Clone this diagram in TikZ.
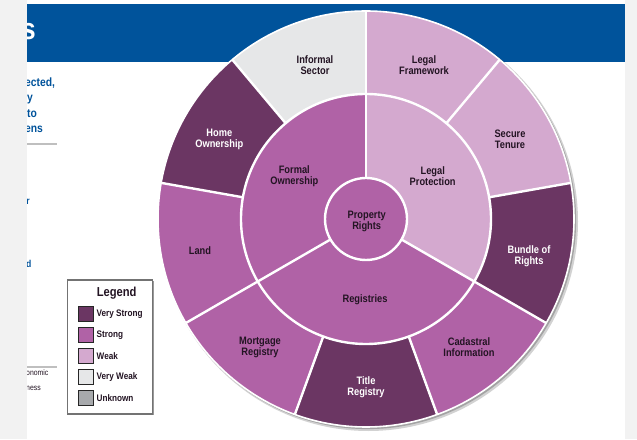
\documentclass[tikz,border=0pt]{standalone}
\usepackage{fontspec}
\setmainfont{Liberation Sans}[FakeStretch=0.86]
\definecolor{vstrong}{RGB}{107,54,99}
\definecolor{strong}{RGB}{176,98,166}
\definecolor{weak}{RGB}{212,169,207}
\definecolor{vweak}{RGB}{230,231,232}
\definecolor{unknown}{RGB}{167,169,172}
\definecolor{band}{RGB}{0,83,155}
\definecolor{strip}{RGB}{242,242,242}
\definecolor{ink}{RGB}{35,20,35}
\tikzset{
  wheeltext/.style={font=\bfseries\fontsize{10.8}{11}\selectfont, align=center, inner sep=0pt, text=ink},
  wheeltextw/.style={wheeltext, text=white},
  bluefrag/.style={font=\bfseries\fontsize{12}{15}\selectfont, text=band, inner sep=0pt, anchor=base west},
  darkfrag/.style={font=\fontsize{8}{10}\selectfont, text=ink, inner sep=0pt, anchor=base west},
  swatch/.style={draw=black!85, line width=0.8pt, minimum width=15pt, minimum height=15pt, inner sep=0pt},
  legtext/.style={font=\bfseries\fontsize{9.5}{11}\selectfont, text=ink, inner sep=0pt, anchor=west},
  sepline/.style={white, line width=2.4pt}
}
\begin{document}
\begin{tikzpicture}[x=1pt,y=1pt]
\useasboundingbox (0,0) rectangle (637,439);
\fill[white] (0,0) rectangle (637,439);
\fill[strip] (0,0) rectangle (27,439);
\fill[strip] (625,0) rectangle (637,439);
\fill[band] (27,377) rectangle (625,435);
% clipped text fragments at left edge
\begin{scope}
\clip (27,0) rectangle (200,439);
\node[font=\bfseries\fontsize{30}{30}\selectfont, text=white, inner sep=0pt, anchor=base east] (hs) at (36,399) {s};
\node[bluefrag] (f1) at (25,352) {ected,};
\node[bluefrag] (f2) at (27,337.5) {y};
\node[bluefrag] (f3) at (27,321) {to};
\node[bluefrag] (f4) at (25,306) {ens};
\node[font=\bfseries\fontsize{10}{10}\selectfont, text=band, inner sep=0pt, anchor=base east] (f5) at (30,234) {r};
\node[font=\bfseries\fontsize{10}{10}\selectfont, text=band, inner sep=0pt, anchor=base east] (f6) at (31.5,171) {d};
\node[darkfrag] (f7) at (26,63) {onomic};
\node[darkfrag] (f8) at (26,48) {ness};
\end{scope}
\draw[black!25, line width=1.3pt] (27,295) -- (57,295);
\draw[black!25, line width=1.3pt] (27,72) -- (57,72);
% wheel shadow
\fill[black!70, opacity=0.25] (368.5,217.5) circle (209.5);
\fill[black!70, opacity=0.35] (367.5,218.5) circle (208.6);
% outer ring
\foreach \a/\b/\col in {50/90/weak, 90/130/vweak, 130/170/vstrong, 170/210/strong, 210/250/strong, 250/290/vstrong, 290/330/strong, 330/370/vstrong, 10/50/weak}{
  \fill[\col] (366,220) -- ++(\a:208) arc[start angle=\a, end angle=\b, radius=208] -- cycle;
}
% middle ring
\foreach \a/\b/\col in {90/210/strong, 210/330/strong, -30/90/weak}{
  \fill[\col] (366,220) -- ++(\a:125) arc[start angle=\a, end angle=\b, radius=125] -- cycle;
}
\fill[strong] (366,220) circle (41);
% separators
\foreach \a in {90,130,170,210,250,290,330,10,50}{
  \draw[sepline] (366,220) ++(\a:125) -- ++(\a:83);
}
\foreach \a in {90,210,330}{
  \draw[sepline] (366,220) ++(\a:41) -- ++(\a:84);
}
\draw[sepline] (366,220) circle (125);
\draw[sepline] (366,220) circle (41);
\draw[white, line width=1.6pt] (366,220) circle (208);
% labels
\node[wheeltext] (informal) at (315,374) {Informal\\Sector};
\node[wheeltext] (legalfw) at (424,374) {Legal\\Framework};
\node[wheeltext] (secure) at (510,299.7) {Secure\\Tenure};
\node[wheeltextw] (bundle) at (529,183) {Bundle of\\Rights};
\node[wheeltext] (cadastral) at (469,91.7) {Cadastral\\Information};
\node[wheeltextw] (title) at (366,51.7) {Title\\Registry};
\node[wheeltext] (mortgage) at (260,91.7) {Mortgage\\Registry};
\node[wheeltext] (land) at (200,188) {Land};
\node[wheeltextw] (home) at (219.3,299.7) {Home\\Ownership};
\node[wheeltext] (formal) at (294.3,263) {Formal\\Ownership};
\node[wheeltext] (legalpr) at (432.7,263) {Legal\\Protection};
\node[wheeltext] (registries) at (365,139) {Registries};
\node[wheeltext] (property) at (366.7,217.3) {Property\\Rights};
% legend
\fill[black!40] (69,24) rectangle (154,158);
\draw[black!55, fill=white, line width=1.1pt] (67.7,25) rectangle (152.7,159);
\node[font=\bfseries\fontsize{13}{14}\selectfont, text=ink, inner sep=0pt] (legtitle) at (116.7,146) {Legend};
\node[swatch, fill=vstrong] (s1) at (85.5,125) {};
\node[swatch, fill=strong] (s2) at (85.5,104) {};
\node[swatch, fill=weak] (s3) at (85.5,83) {};
\node[swatch, fill=vweak] (s4) at (85.5,62) {};
\node[swatch, fill=unknown] (s5) at (85.5,41) {};
\node[legtext] (l1) at (96.5,125) {Very Strong};
\node[legtext] (l2) at (96.5,104) {Strong};
\node[legtext] (l3) at (96.5,83) {Weak};
\node[legtext] (l4) at (96.5,62) {Very Weak};
\node[legtext] (l5) at (96.5,41) {Unknown};
\end{tikzpicture}
\end{document}
